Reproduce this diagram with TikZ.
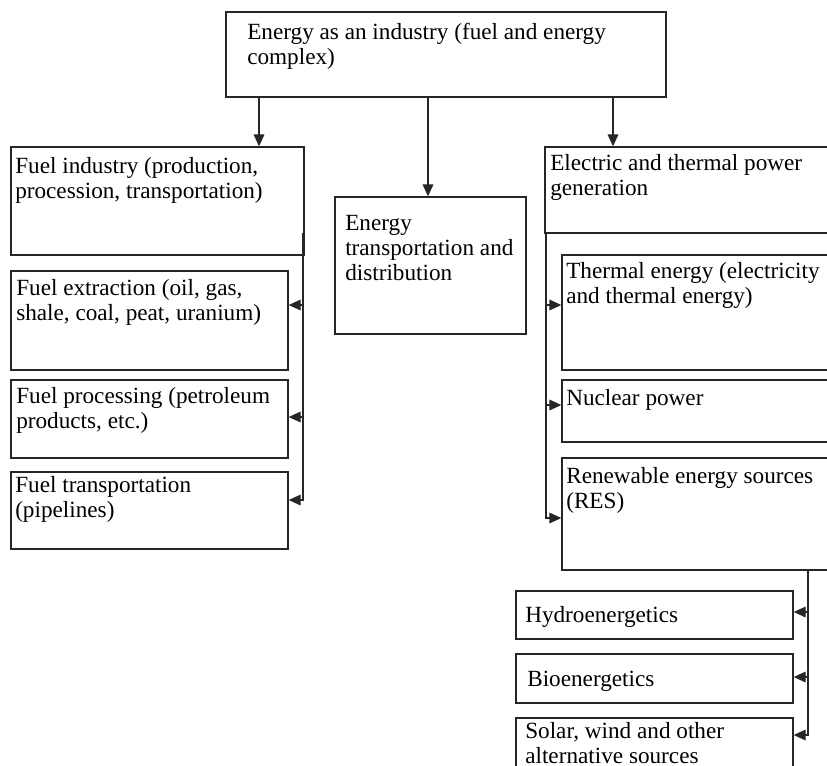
\documentclass[tikz,border=0pt]{standalone}
\usepackage{fontspec}
\setmainfont{Liberation Serif}
\usetikzlibrary{arrows.meta,fit}
\newcommand\ts{\rule{0pt}{13pt}}
\begin{document}
\begin{tikzpicture}[x=0.75pt,y=-0.75pt,
  box/.style={draw=black!85, line width=1pt, inner sep=0pt, fit={#1}},
  txt/.style={anchor=north west, inner sep=0pt, align=left, text=black,
    font=\fontsize{17.4}{18.75}\selectfont},
  ln/.style={draw=black!85, line width=1pt},
  arr/.style={ln, -{Triangle[length=9pt,width=8pt]}}]
\useasboundingbox (0,0) rectangle (827,765);
\fill[white] (0,0) rectangle (827,765);
\clip (0,0) rectangle (827,765);
% boxes
\node[box={(226,12) (666,97)}] (top) {};
\node[box={(11,147) (304,255)}] (fi) {};
\node[box={(11,271) (288,370)}] (fe) {};
\node[box={(11,380) (288,458)}] (fp) {};
\node[box={(11,472) (288,549)}] (ft) {};
\node[box={(335,197) (526,334)}] (et) {};
\node[box={(545,147) (845,233)}] (el) {};
\node[box={(562,255) (845,370)}] (th) {};
\node[box={(562,380) (845,442)}] (nu) {};
\node[box={(562,458) (845,570)}] (res) {};
\node[box={(516,591) (793,639)}] (hy) {};
\node[box={(516,654) (793,703)}] (bio) {};
\node[box={(516,718) (793,790)}] (sol) {};
% texts
\node[txt] (ttop) at (247,21.7) {\ts Energy as an industry (fuel and energy\\complex)};
\node[txt] (tfi) at (15,155.7) {\ts Fuel industry (production,\\procession, transportation)};
\node[txt] (tfe) at (16,277.7) {\ts Fuel extraction (oil, gas,\\shale, coal, peat, uranium)};
\node[txt] (tfp) at (16,385.7) {\ts Fuel processing (petroleum\\products, etc.)};
\node[txt] (tft) at (15,474.7) {\ts Fuel transportation\\(pipelines)};
\node[txt] (tet) at (345,212.7) {\ts Energy\\transportation and\\distribution};
\node[txt] (tel) at (550,152.7) {\ts Electric and thermal power\\generation};
\node[txt] (tth) at (566,260.7) {\ts Thermal energy (electricity\\and thermal energy)};
\node[txt] (tnu) at (566,387.7) {\ts Nuclear power};
\node[txt] (tres) at (566,465.7) {\ts Renewable energy sources\\(RES)};
\node[txt] (thy) at (525,604.7) {\ts Hydroenergetics};
\node[txt] (tbio) at (527,668.7) {\ts Bioenergetics};
\node[txt] (tsol) at (525,720.7) {\ts Solar, wind and other\\alternative sources};
% top arrows
\coordinate (c1) at (259,0);
\coordinate (c2) at (428,0);
\coordinate (c3) at (613,0);
\draw[arr] (top.south -| c1) -- (fi.north -| c1);
\draw[arr] (top.south -| c2) -- (et.north -| c2);
\draw[arr] (top.south -| c3) -- (el.north -| c3);
% fuel bus
\coordinate (fb) at (303,233);
\draw[arr] (fb) |- (ft.east |- 0,500);
\draw[arr] (fb |- 0,305) -- (fe.east |- 0,305);
\draw[arr] (fb |- 0,417) -- (fp.east |- 0,417);
% electric bus
\coordinate (eb) at (546,233);
\draw[arr] (eb) |- (res.west |- 0,518);
\draw[arr] (eb |- 0,305) -- (th.west |- 0,305);
\draw[arr] (eb |- 0,405) -- (nu.west |- 0,405);
% RES bus
\coordinate (rb) at (808,0);
\draw[arr] (res.south -| rb) |- (sol.east |- 0,735);
\draw[arr] (rb |- 0,612) -- (hy.east |- 0,612);
\draw[arr] (rb |- 0,677) -- (bio.east |- 0,677);
\end{tikzpicture}
\end{document}
